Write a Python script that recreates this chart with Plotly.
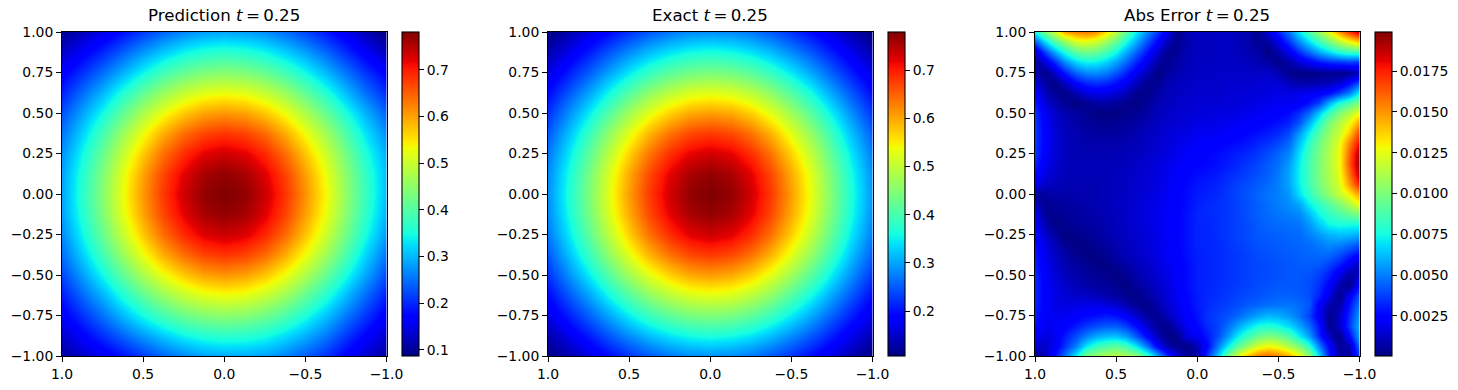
import plotly.graph_objects as go

W, H = 1458, 390

grid_17 = [1.0, 0.875, 0.75, 0.625, 0.5, 0.375, 0.25, 0.125, 0.0, -0.125, -0.25, -0.375, -0.5, -0.625, -0.75, -0.875, -1.0]
grid_33 = [1.0, 0.9375, 0.875, 0.8125, 0.75, 0.6875, 0.625, 0.5625, 0.5, 0.4375, 0.375, 0.3125, 0.25, 0.1875, 0.125, 0.0625, 0.0,
           -0.0625, -0.125, -0.1875, -0.25, -0.3125, -0.375, -0.4375, -0.5, -0.5625, -0.625, -0.6875, -0.75, -0.8125, -0.875, -0.9375, -1.0]

exact_values = [
 [.107,.133,.164,.194,.223,.249,.270,.283,.287,.283,.270,.249,.223,.194,.164,.133,.107],
 [.133,.169,.207,.246,.283,.315,.341,.357,.363,.357,.341,.315,.283,.246,.207,.169,.133],
 [.164,.207,.253,.300,.346,.386,.417,.437,.444,.437,.417,.386,.346,.300,.253,.207,.164],
 [.194,.246,.300,.357,.411,.459,.496,.520,.528,.520,.496,.459,.411,.357,.300,.246,.194],
 [.223,.283,.346,.411,.473,.527,.570,.598,.607,.598,.570,.527,.473,.411,.346,.283,.223],
 [.249,.315,.386,.459,.527,.589,.637,.667,.678,.667,.637,.589,.527,.459,.386,.315,.249],
 [.270,.341,.417,.496,.570,.637,.688,.721,.733,.721,.688,.637,.570,.496,.417,.341,.270],
 [.283,.357,.437,.520,.598,.667,.721,.756,.768,.756,.721,.667,.598,.520,.437,.357,.283],
 [.287,.363,.444,.528,.607,.678,.733,.768,.779,.768,.733,.678,.607,.528,.444,.363,.287],
 [.283,.357,.437,.520,.598,.667,.721,.756,.768,.756,.721,.667,.598,.520,.437,.357,.283],
 [.270,.341,.417,.496,.570,.637,.688,.721,.733,.721,.688,.637,.570,.496,.417,.341,.270],
 [.249,.315,.386,.459,.527,.589,.637,.667,.678,.667,.637,.589,.527,.459,.386,.315,.249],
 [.223,.283,.346,.411,.473,.527,.570,.598,.607,.598,.570,.527,.473,.411,.346,.283,.223],
 [.194,.246,.300,.357,.411,.459,.496,.520,.528,.520,.496,.459,.411,.357,.300,.246,.194],
 [.164,.207,.253,.300,.346,.386,.417,.437,.444,.437,.417,.386,.346,.300,.253,.207,.164],
 [.133,.169,.207,.246,.283,.315,.341,.357,.363,.357,.341,.315,.283,.246,.207,.169,.133],
 [.107,.133,.164,.194,.223,.249,.270,.283,.287,.283,.270,.249,.223,.194,.164,.133,.107],
]

prediction_values = [
 [.099,.123,.151,.182,.213,.242,.267,.283,.288,.284,.271,.249,.221,.188,.154,.118,.087],
 [.129,.163,.199,.238,.277,.311,.340,.357,.364,.358,.342,.315,.283,.243,.202,.161,.123],
 [.165,.206,.250,.297,.343,.385,.417,.438,.445,.438,.418,.387,.347,.301,.254,.208,.167],
 [.196,.247,.300,.358,.412,.459,.497,.521,.529,.521,.498,.461,.413,.359,.302,.249,.201],
 [.227,.285,.347,.412,.474,.528,.571,.599,.608,.600,.572,.530,.476,.416,.353,.293,.239],
 [.253,.317,.387,.460,.528,.590,.638,.668,.680,.669,.640,.592,.531,.465,.394,.327,.268],
 [.273,.343,.418,.497,.571,.638,.689,.723,.735,.723,.691,.640,.575,.502,.426,.354,.290],
 [.285,.358,.438,.521,.599,.668,.722,.758,.770,.758,.724,.670,.603,.526,.446,.369,.301],
 [.287,.364,.445,.529,.608,.679,.734,.770,.781,.771,.736,.682,.613,.535,.452,.374,.300],
 [.284,.357,.438,.521,.599,.668,.722,.758,.770,.759,.724,.671,.603,.526,.444,.366,.293],
 [.268,.340,.417,.496,.571,.638,.689,.723,.735,.724,.691,.641,.575,.501,.423,.347,.276],
 [.247,.314,.385,.459,.527,.590,.638,.669,.680,.670,.640,.592,.531,.463,.390,.317,.250],
 [.221,.281,.345,.410,.473,.527,.571,.599,.609,.600,.573,.530,.477,.415,.349,.285,.222],
 [.191,.244,.298,.356,.410,.459,.496,.521,.530,.523,.499,.463,.415,.361,.302,.246,.191],
 [.161,.205,.251,.299,.345,.385,.417,.437,.445,.440,.421,.391,.352,.305,.255,.207,.160],
 [.131,.167,.204,.241,.277,.310,.339,.357,.365,.361,.348,.324,.293,.255,.210,.169,.130],
 [.105,.130,.155,.184,.213,.242,.267,.283,.289,.291,.282,.263,.237,.206,.167,.133,.104],
]

# absolute error, in units of 1e-4
error_values_e4 = [
 [75,98,120,145,152,155,150,133,115,92,72,52,36,20,2,10,12,12,12,12,10,8,3,15,30,48,70,88,106,125,148,168,188],
 [41,67,88,105,120,123,118,106,93,75,58,40,25,10,3,8,11,11,12,12,10,8,4,6,18,35,52,68,83,97,112,125,138],
 [13,38,59,77,92,97,94,86,74,59,44,28,15,3,5,10,11,11,12,12,11,9,7,1,8,20,34,46,58,68,78,83,85],
 [3,16,34,53,67,73,72,66,57,45,32,19,7,3,7,10,12,12,12,12,12,11,9,7,2,7,15,22,29,33,35,37,35],
 [9,1,13,30,44,51,52,49,41,31,20,10,1,6,9,11,12,12,13,13,13,13,13,13,9,3,1,1,2,3,2,4,12],
 [16,7,1,12,25,32,34,32,27,20,11,3,4,9,11,12,13,13,13,14,14,14,15,16,15,11,8,8,9,11,14,26,42],
 [24,11,4,1,9,16,19,18,15,10,3,2,7,10,12,13,14,14,14,15,15,16,16,17,18,18,19,21,23,27,38,50,75],
 [30,16,8,4,1,3,6,7,5,3,1,5,9,11,13,14,15,15,15,16,16,17,18,19,20,20,22,28,38,60,78,88,102],
 [35,20,13,9,6,4,1,1,1,2,4,7,10,13,14,15,16,16,17,17,18,19,20,22,24,27,34,46,65,84,100,113,128],
 [36,22,14,10,7,5,4,3,4,5,7,9,12,14,15,16,18,18,19,20,21,22,24,26,28,32,42,60,80,100,113,127,150],
 [37,23,15,11,9,7,6,6,6,7,9,11,13,15,17,18,20,20,21,22,24,26,28,30,33,40,55,73,90,106,118,138,170],
 [36,23,15,11,9,8,8,8,8,9,10,12,14,16,18,20,22,23,24,26,27,29,32,35,39,46,63,80,97,110,125,153,182],
 [35,22,15,11,9,9,9,9,10,10,11,13,15,17,20,22,24,25,27,29,31,33,36,40,45,52,69,85,99,112,127,160,195],
 [32,20,14,11,10,10,10,10,10,11,13,14,16,19,21,23,25,26,28,30,33,36,39,43,47,56,72,86,100,113,127,162,197],
 [26,17,13,10,10,10,10,10,11,12,13,15,17,20,22,25,27,28,30,33,35,38,41,44,49,58,73,86,100,112,125,156,192],
 [20,13,11,9,9,9,9,10,11,12,14,15,17,20,23,26,29,30,32,35,38,40,43,46,50,58,72,85,98,110,122,148,178],
 [4,6,8,8,9,9,9,10,11,12,14,16,18,21,24,27,30,31,33,36,39,42,45,48,50,55,69,81,94,105,117,130,150],
 [12,3,5,6,7,8,9,10,12,13,15,17,19,21,24,27,31,33,34,36,38,41,44,47,50,53,58,72,81,91,100,112,128],
 [20,4,3,5,6,7,8,10,11,13,15,17,19,22,25,28,32,33,34,36,38,41,44,46,48,50,52,62,74,82,88,94,100],
 [22,9,1,3,5,6,7,9,11,13,15,17,19,22,25,28,32,32,34,36,38,40,43,45,46,47,48,55,65,74,76,76,75],
 [25,14,6,1,2,4,6,8,10,12,14,16,19,22,25,28,32,32,34,36,38,40,42,43,44,45,46,50,55,60,62,61,58],
 [28,17,10,4,1,2,4,6,9,11,13,16,18,21,25,28,32,32,33,35,37,39,41,42,43,44,45,46,49,52,50,46,40],
 [30,19,12,7,3,1,1,4,7,10,12,15,18,21,24,28,31,32,33,35,36,38,40,41,42,43,44,45,46,45,40,32,24],
 [31,21,14,9,6,4,2,1,4,7,10,13,16,20,23,27,31,32,33,35,36,38,39,40,41,42,43,43,42,37,30,20,8],
 [33,22,16,11,8,6,4,3,1,4,8,11,15,18,23,27,31,32,33,35,36,38,39,40,41,42,42,41,37,30,18,6,12],
 [33,23,17,13,10,8,6,5,3,1,5,9,13,17,22,27,31,32,34,35,37,38,40,41,42,42,42,40,34,24,9,2,28],
 [33,23,18,15,13,12,10,8,6,3,2,6,11,16,21,26,30,33,34,36,38,40,41,43,44,44,43,40,32,18,2,20,42],
 [32,23,18,17,18,19,19,17,14,9,4,2,8,14,20,25,30,33,36,38,40,43,45,47,48,48,46,42,22,8,6,28,50],
 [30,22,20,20,23,26,28,30,28,23,14,6,3,10,17,24,28,35,38,41,46,52,58,62,60,55,48,38,20,3,12,33,58],
 [27,20,21,24,30,36,40,43,43,37,27,14,5,2,12,21,26,33,38,47,58,68,76,78,75,68,58,46,28,3,12,36,62],
 [22,16,20,30,40,50,58,62,63,56,42,25,10,2,2,18,20,30,40,55,72,84,95,100,97,88,72,56,32,12,1,25,60],
 [14,13,21,35,50,70,82,88,92,85,70,48,24,8,3,1,10,25,50,72,92,108,122,128,124,112,100,80,50,24,4,8,50],
 [3,12,28,48,72,100,107,112,115,112,105,85,60,35,15,5,6,35,65,98,125,142,155,160,155,145,127,105,68,30,8,6,38],
]
error_values = [[v / 10000 for v in row] for row in error_values_e4]

axis_ticks_x = [1.0, 0.5, 0.0, -0.5, -1.0]
axis_ticks_y = [1.0, 0.75, 0.5, 0.25, 0.0, -0.25, -0.5, -0.75, -1.0]
prediction_cbar_ticks = [0.1, 0.2, 0.3, 0.4, 0.5, 0.6, 0.7]
exact_cbar_ticks = [0.2, 0.3, 0.4, 0.5, 0.6, 0.7]
error_cbar_ticks = [0.0025, 0.005, 0.0075, 0.01, 0.0125, 0.015, 0.0175]
titles = ["Prediction <i>t</i>\u2009=\u20090.25", "Exact <i>t</i>\u2009=\u20090.25", "Abs Error <i>t</i>\u2009=\u20090.25"]

jet = [
 [0.0, "rgb(0,0,128)"], [0.11, "rgb(0,0,255)"], [0.125, "rgb(0,0,255)"],
 [0.34, "rgb(0,219,255)"], [0.35, "rgb(0,230,247)"], [0.375, "rgb(21,255,226)"],
 [0.64, "rgb(238,255,8)"], [0.65, "rgb(247,246,0)"], [0.66, "rgb(255,236,0)"],
 [0.89, "rgb(255,19,0)"], [0.91, "rgb(232,0,0)"], [1.0, "rgb(128,0,0)"],
]

panel_left = [62, 548, 1035]
panel_width = 324.5
bar_left = [402, 888, 1375]
top, bottom = 32, 356
area_left, area_right = 40, 1430
area_top, area_bottom = 14, 376
FONT = "DejaVu Sans"
TICK = dict(size=13.9, family=FONT, color="black")


def fx(px):
    return (px - area_left) / (area_right - area_left)


def fy(px):
    return (area_bottom - px) / (area_bottom - area_top)


fig = go.Figure()
series = [
 (prediction_values, grid_17, 0.087, 0.781, prediction_cbar_ticks, ".1f"),
 (exact_values, grid_17, 0.107, 0.779, exact_cbar_ticks, ".1f"),
 (error_values, grid_33, 0.00005, 0.01989, error_cbar_ticks, ".4f"),
]
for k, (z, g, zmin, zmax, cticks, cfmt) in enumerate(series):
    suffix = "" if k == 0 else str(k + 1)
    fig.add_trace(go.Heatmap(
        z=z, x=g, y=g, xaxis="x" + suffix, yaxis="y" + suffix,
        zmin=zmin, zmax=zmax, zsmooth="best", colorscale=jet,
        colorbar=dict(
            x=fx(bar_left[k]), xanchor="left", xpad=0, ypad=0,
            y=fy(top), yanchor="top", len=fy(top) - fy(bottom), lenmode="fraction",
            thickness=16.5, thicknessmode="pixels",
            outlinewidth=1.1, outlinecolor="black",
            ticks="outside", ticklen=4.9, tickwidth=1.1, tickcolor="black",
            tickvals=cticks, tickformat=cfmt, tickfont=TICK,
        ),
    ))
    axis = dict(showgrid=False, zeroline=False, showline=True, mirror=True,
                linecolor="black", linewidth=1.1, ticks="outside", ticklen=4.9,
                tickwidth=1.1, tickcolor="black", tickfont=TICK)
    fig.update_layout(**{
        "xaxis" + suffix: dict(axis, domain=[fx(panel_left[k]), fx(panel_left[k] + panel_width)],
                               range=[1, -1], tickvals=axis_ticks_x, tickformat=".1f",
                               anchor="y" + suffix),
        "yaxis" + suffix: dict(axis, domain=[fy(bottom), fy(top)], range=[-1, 1],
                               tickvals=axis_ticks_y, tickformat=".2f", anchor="x" + suffix),
    })
    fig.add_annotation(text=titles[k], xref="paper", yref="paper",
                       x=fx(panel_left[k] + panel_width / 2), y=fy(27),
                       xanchor="center", yanchor="bottom", showarrow=False,
                       font=dict(size=16.67, family=FONT, color="black"))

fig.update_layout(width=W, height=H, autosize=False,
                  margin=dict(l=area_left, r=W - area_right, t=area_top, b=H - area_bottom, pad=0, autoexpand=False),
                  paper_bgcolor="white", plot_bgcolor="white", showlegend=False)
fig.write_html("out.html", config={"displayModeBar": False},
               post_script="document.body.style.margin='0';document.body.style.overflow='hidden';")
